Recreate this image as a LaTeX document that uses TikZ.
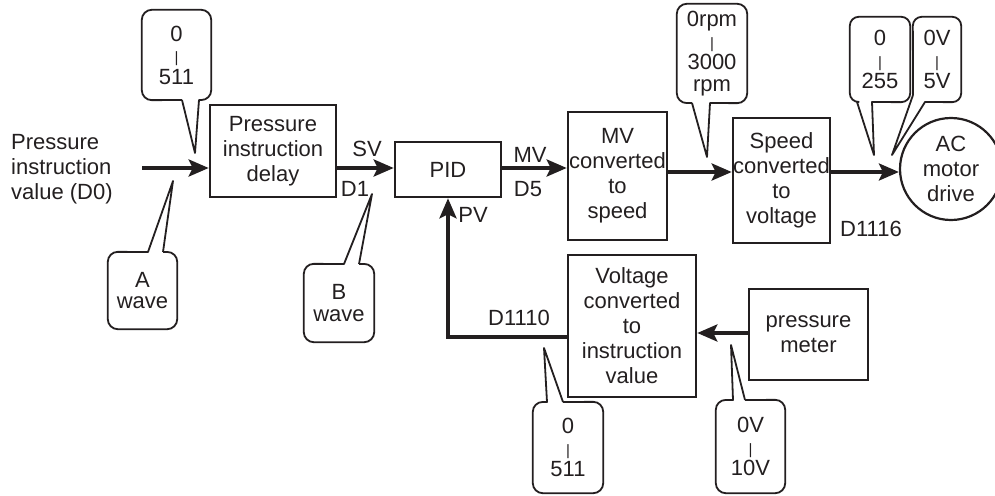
\documentclass[tikz,border=0pt]{standalone}
\usepackage{fontspec}
\setmainfont{Liberation Sans}
\usetikzlibrary{arrows.meta}
\definecolor{ink}{HTML}{231F20}
\tikzset{
  txt/.style={font=\fontsize{22}{25}\selectfont, text=ink, inner sep=0pt, align=center},
  blk/.style={txt, draw=ink, line width=2.6pt},
  flow/.style={draw=ink, line width=3.6pt, -{Stealth[length=20pt,width=17pt,inset=4pt]}},
  callout/.style={draw=ink, line width=1.8pt, line join=round},
  ctext/.style={font=\fontsize{22}{21.5}\selectfont, text=ink, inner sep=0pt, align=center},
}
\newcommand{\vbar}{{\fontsize{15}{15}\selectfont |}}
\begin{document}
\begin{tikzpicture}[x=1pt,y=-1pt]
\useasboundingbox (0,0) rectangle (995,495);

% ---- blocks
\node[blk, minimum width=126pt, minimum height=92pt] (delay) at (273,151) {Pressure\\instruction\\delay};
\node[blk, minimum width=106pt, minimum height=55pt] (pid) at (448,169.5) {PID};
\node[blk, minimum width=99pt, minimum height=128pt] (mvs) at (617.5,176) {MV\\converted\\to\\speed};
\node[blk, minimum width=97pt, minimum height=125pt] (s2v) at (781.5,180.5) {Speed\\converted\\to\\voltage};
\node[blk, minimum width=128pt, minimum height=142pt] (volt) at (632,326) {Voltage\\converted\\to\\instruction\\value};
\node[blk, minimum width=119pt, minimum height=91pt] (meter) at (808.5,334.5) {pressure\\meter};
\node[txt, draw=ink, line width=2.2pt, circle, minimum size=102pt] (ac) at (951,169) {AC\\motor\\drive};

% ---- free labels
\node[txt, align=left, anchor=west] (inlabel) at (11,169) {Pressure\\instruction\\value (D0)};
\node[txt] (sv) at (367,149) {SV};
\node[txt] (d1) at (355,189) {D1};
\node[txt] (mv) at (530,155) {MV};
\node[txt] (d5) at (528,189) {D5};
\node[txt] (pv) at (473,215) {PV};
\node[txt] (d1110) at (519,318) {D1110};
\node[txt] (d1116) at (871,229) {D1116};

% ---- connectors
\coordinate (inA) at (142,168);
\draw[flow] (inA) -- (delay.west |- inA);
\draw[flow] (delay.east |- 0,168) -- (pid.west |- 0,168);
\draw[flow] (pid.east |- 0,168) -- (mvs.west |- 0,168);
\draw[flow] (mvs.east |- 0,172) -- (s2v.west |- 0,172);
\draw[flow] (s2v.east |- 0,172) -- (ac.west |- 0,172);
\draw[flow] (meter.west |- 0,333) -- (volt.east |- 0,333);
\draw[flow, line join=miter] (volt.west |- 0,337) -| (pid.south);

% ---- callouts
% top-left 0|511
\node[ctext, minimum width=69pt, minimum height=90pt] (c1) at (176.5,55) {0\\\vbar\\511};
\draw[callout] (182,100) -- (195,153) -- (199,100) [rounded corners=10pt] -- (c1.south east) -- (c1.north east) -- (c1.north west) -- (c1.south west) -- (182,100);
% A wave
\node[ctext, minimum width=69pt, minimum height=77pt] (cA) at (142.5,290.5) {A\\wave};
\draw[callout] (163,252) -- (173,181) -- (148,252) [rounded corners=10pt] -- (cA.north west) -- (cA.south west) -- (cA.south east) -- (cA.north east) -- (163,252);
% B wave
\node[ctext, minimum width=70pt, minimum height=78pt] (cB) at (339,303) {B\\wave};
\draw[callout] (359,264) -- (372,194) -- (344,264) [rounded corners=10pt] -- (cB.north west) -- (cB.south west) -- (cB.south east) -- (cB.north east) -- (359,264);
% 0rpm
\node[ctext, minimum width=70pt, minimum height=99pt] (cR) at (712,53.5) {0rpm\\\vbar\\3000\\rpm};
\draw[callout] (692,103) -- (707,157) -- (710,103) [rounded corners=10pt] -- (cR.south east) -- (cR.north east) -- (cR.north west) -- (cR.south west) -- (692,103);
% 0|255
\node[ctext, minimum width=60pt, minimum height=85pt] (c255) at (880,59.5) {0\\\vbar\\255};
\draw[callout] (857,102) -- (874,155) -- (872,102) [rounded corners=9pt] -- (c255.south east) -- (c255.north east) -- (c255.north west) -- (c255.south west) -- (857,102);
% 0V|5V
\node[ctext, minimum width=48pt, minimum height=85pt] (c5) at (937,59.5) {0V\\\vbar\\5V};
\draw[callout] (913,95) -- (892,155) -- (925,102) [rounded corners=9pt] -- (c5.south east) -- (c5.north east) -- (c5.north west) -- (913,95);
% bottom 0|511
\node[ctext, minimum width=70pt, minimum height=91pt] (cb1) at (568,447.5) {0\\\vbar\\511};
\draw[callout] (563,402) -- (544,348) -- (547,402) [rounded corners=10pt] -- (cb1.north west) -- (cb1.south west) -- (cb1.south east) -- (cb1.north east) -- (563,402);
% 0V|10V
\node[ctext, minimum width=69pt, minimum height=93pt] (cb2) at (750.5,446.5) {0V\\\vbar\\10V};
\draw[callout] (745,400) -- (731,345) -- (733,400) [rounded corners=10pt] -- (cb2.north west) -- (cb2.south west) -- (cb2.south east) -- (cb2.north east) -- (745,400);
\end{tikzpicture}
\end{document}
